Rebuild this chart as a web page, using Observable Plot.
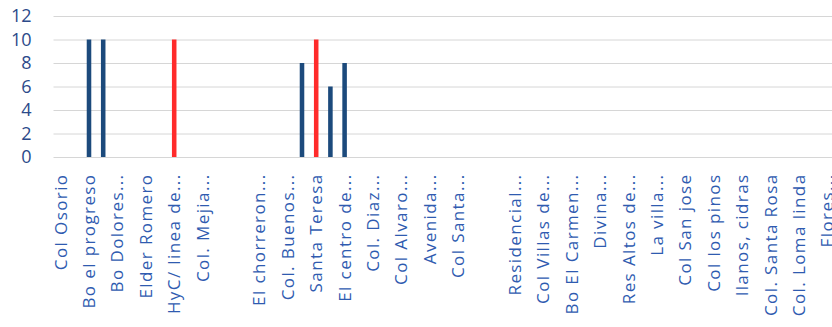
<!DOCTYPE html>
<html>
<head>
<meta charset="utf-8">
<script src="https://cdn.jsdelivr.net/npm/d3@7"></script>
<script src="https://cdn.jsdelivr.net/npm/@observablehq/plot@0.6"></script>
<style>
  html, body { margin: 0; padding: 0; background: #fff; overflow: hidden; }
  #chart { width: 832px; height: 327px; }
  g[aria-label="x-axis tick label"] text { letter-spacing: 1.4px; }
</style>
</head>
<body>
<div id="chart"></div>
<script>
// Category labels (Excel shows only every second label; hidden ones are "")
const categorias = [
  "Col Osorio", "", "Bo el progreso", "", "Bo Dolores...", "", "Elder Romero", "",
  "HyC/ linea de...", "", "Col. Mejia...", "", "", "", "El chorreron...", "",
  "Col. Buenos...", "", "Santa Teresa", "", "El centro de...", "", "Col. Diaz...", "",
  "Col Alvaro...", "", "Avenida...", "", "Col Santa...", "", "", "",
  "Residencial...", "", "Col Villas de...", "", "Bo El Carmen...", "", "Divina...", "",
  "Res Altos de...", "", "La villa...", "", "Col San jose", "", "Col los pinos", "",
  "llanos, cidras", "", "Col. Santa Rosa", "", "Col. Loma linda", "", "Flores..."
];
// Series values (index into categorias)
const serieAzulIdx = [2, 3, 17, 19, 20];
const serieAzulVal = [10, 10, 8, 6, 8];
const serieRojaIdx = [8, 18];
const serieRojaVal = [10, 10];
const yTicks = [0, 2, 4, 6, 8, 10, 12];

const azul = serieAzulIdx.map((i, k) => ({i, v: serieAzulVal[k]}));
const roja = serieRojaIdx.map((i, k) => ({i, v: serieRojaVal[k]}));
const idx = d3.range(categorias.length);
const visibles = idx.filter(i => categorias[i] !== "" && i % 2 === 0);

const chart = Plot.plot({
  width: 832,
  height: 327,
  marginLeft: 53.5,
  marginRight: -2.5,
  marginTop: 16,
  marginBottom: 170,
  style: {fontFamily: "'Open Sans', sans-serif", background: "#fff"},
  x: {type: "band", domain: idx, paddingInner: 0.68, paddingOuter: 0.34, round: false},
  y: {domain: [0, 12]},
  marks: [
    Plot.gridY(yTicks, {stroke: "#d6d6d6", strokeOpacity: 1}),
    Plot.barY(azul, {x: "i", y: "v", fill: "#1c4a7c"}),
    Plot.barY(roja, {x: "i", y: "v", fill: "#ff2b2b"}),
    Plot.axisY(yTicks, {tickSize: 0, tickPadding: 22.5, fontSize: 18, fill: "#2c4a8a", label: null}),
    Plot.axisX(visibles, {
      tickSize: 0, tickPadding: 16, tickRotate: -90,
      tickFormat: i => categorias[i], fontSize: 17, fill: "#2f5bb0", label: null
    })
  ]
});
document.getElementById("chart").appendChild(chart);
</script>
</body>
</html>
